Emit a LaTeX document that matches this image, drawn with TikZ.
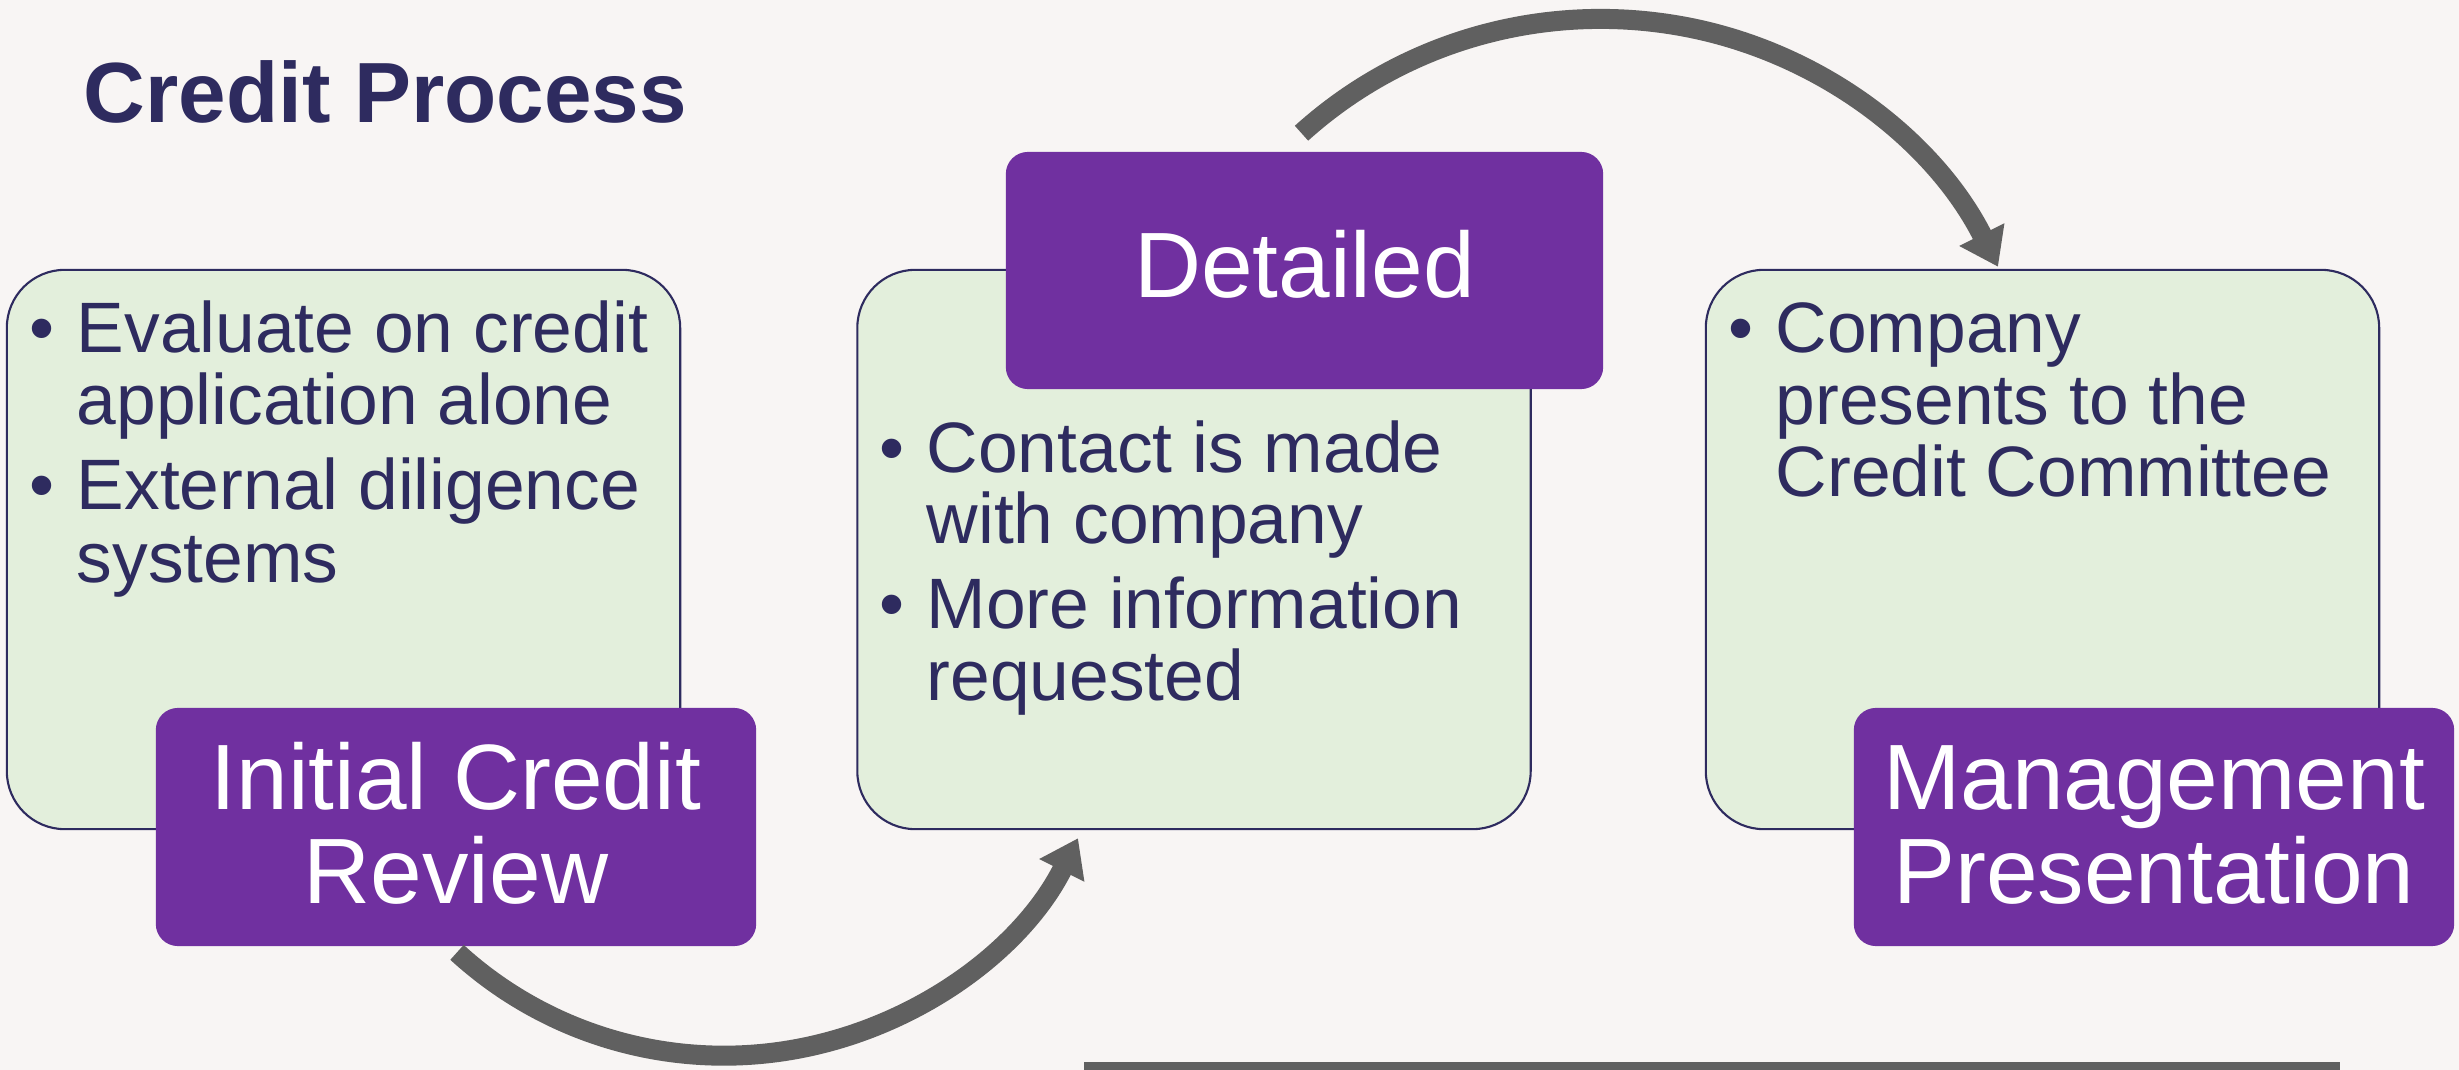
\documentclass[tikz,border=0pt]{standalone}
\usepackage{fontspec}
\setmainfont{Liberation Sans}
\usetikzlibrary{arrows.meta,calc}
\definecolor{bg}{HTML}{F8F5F4}
\definecolor{navy}{HTML}{2E2B5F}
\definecolor{grn}{HTML}{E3EFDC}
\definecolor{purp}{HTML}{7030A0}
\definecolor{arrowgray}{HTML}{606060}
\begin{document}
\begin{tikzpicture}[x=0.01cm,y=-0.01cm,
  greenbox/.style={draw=navy, line width=0.6pt, fill=grn, rounded corners=0.58cm,
    minimum width=6.73cm, minimum height=5.59cm, inner sep=0pt},
  purplebox/.style={fill=purp, rounded corners=0.22cm, minimum width=6cm,
    minimum height=2.38cm, inner sep=0pt},
  bodytext/.style={text=navy, font=\fontsize{20.3}{24}\selectfont, inner sep=0pt, anchor=base west},
  bullettext/.style={text=navy, font=\fontsize{20.3}{24}\selectfont, inner sep=0pt, anchor=base},
  purpletext/.style={text=white, font=\fontsize{26.4}{30}\selectfont, inner sep=0pt, anchor=base},
  flow/.style={draw=arrowgray, line width=0.2cm, -{Triangle[width=0.48cm,length=0.36cm]}}
]
\path[use as bounding box, fill=bg] (0,0) rectangle (2459,1070);

% title
\node[anchor=base west, text=navy, font=\fontsize{24.3}{28}\selectfont\bfseries, inner sep=0pt]
  (title) at (83,122.5) {Credit Process};

% green boxes
\node[greenbox] (box1) at (343.5,549.5) {};
\node[greenbox] (box2) at (1194,549.5) {};
\node[greenbox] (box3) at (2042.5,549.5) {};

% box 1 text
\node[bullettext] (b1a) at (42,353) {•};
\node[bodytext] (t1a) at (76,353) {Evaluate on credit};
\node[bodytext] (t1b) at (76,425) {application alone};
\node[bullettext] (b1b) at (42,509) {•};
\node[bodytext] (t1c) at (76,509) {External diligence};
\node[bodytext] (t1d) at (76,582) {systems};

% box 2 text
\node[bullettext] (b2a) at (892,472) {•};
\node[bodytext] (t2a) at (926,472) {Contact is made};
\node[bodytext] (t2b) at (926,544) {with company};
\node[bullettext] (b2b) at (892,628) {•};
\node[bodytext] (t2c) at (926,628) {More information};
\node[bodytext] (t2d) at (926,700) {requested};

% box 3 text
\node[bullettext] (b3a) at (1741,353) {•};
\node[bodytext] (t3a) at (1775,353) {Company};
\node[bodytext] (t3b) at (1775,425) {presents to the};
\node[bodytext] (t3c) at (1775,497) {Credit Committee};

% purple boxes
\node[purplebox] (icr) at (456,827) {};
\node[purplebox, minimum width=5.97cm, minimum height=2.37cm] (det) at (1304.5,270.5) {};
\node[purplebox] (mgmt) at (2154,827) {};

\node[purpletext] (icr1) at (456,809) {Initial Credit};
\node[purpletext] (icr2) at (456,903) {Review};
\node[purpletext] (det1) at (1304.5,298) {Detailed};
\node[purpletext] (mg1) at (2154,809) {Management};
\node[purpletext] (mg2) at (2154,903) {Presentation};

% arrows (circular arcs, each drawn as two Bezier pieces)
\coordinate (a1s) at ($(icr.south)+(1,5.6)$);
\coordinate (a1m) at (796.2,1049.1);
\coordinate (a1t) at ($(box2.south)+(-116,8)$);
\draw[flow] (a1s) .. controls +(91.5,83.8) and +(-122.1,22.4) .. (a1m)
  .. controls +(122.1,-22.4) and +(-55.8,110.9) .. (a1t);

\coordinate (a2s) at ($(det.north)+(-3,-18)$);
\coordinate (a2m) at (1684.4,26.7);
\coordinate (a2t) at ($(box3.north)+(-44.5,-2)$);
\draw[flow] (a2s) .. controls +(103.7,-93.7) and +(-137.4,-25.7) .. (a2m)
  .. controls +(137.4,25.7) and +(-62.8,-124.9) .. (a2t);

% bottom bar
\fill[arrowgray] (1084,1062) rectangle (2340,1072);
\end{tikzpicture}
\end{document}
